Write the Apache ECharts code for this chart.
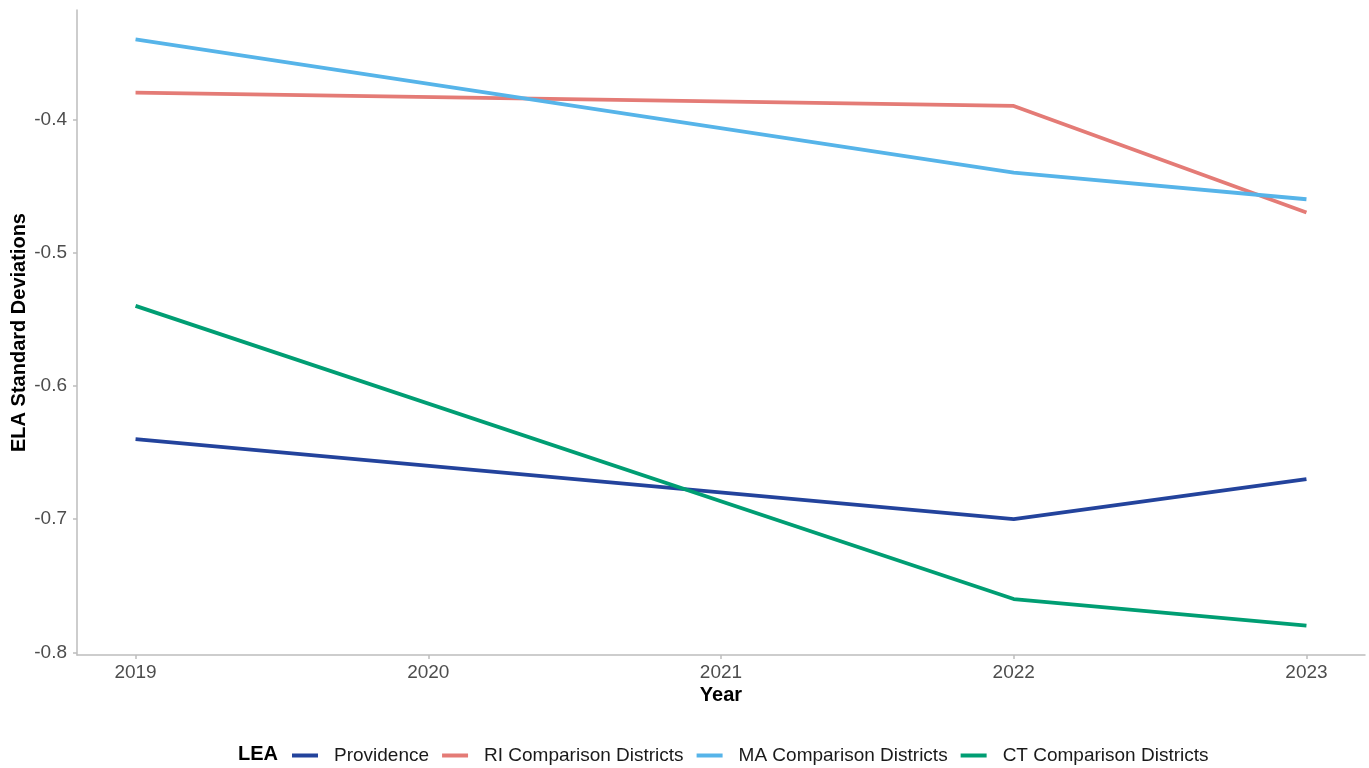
<!DOCTYPE html>
<html>
<head>
<meta charset="utf-8">
<script src="https://cdn.jsdelivr.net/npm/echarts@6/dist/echarts.min.js"></script>
<style>
html,body{margin:0;padding:0;background:#fff;}
#chart{width:1369px;height:768px;}
</style>
</head>
<body>
<div id="chart"></div>
<script>
const years = [2019, 2022, 2023];
const yearTicks = [2019, 2020, 2021, 2022, 2023];
const yTicks = [-0.8, -0.7, -0.6, -0.5, -0.4];
const providence = [-0.64, -0.70, -0.67];
const riComparison = [-0.38, -0.39, -0.47];
const maComparison = [-0.34, -0.44, -0.46];
const ctComparison = [-0.54, -0.76, -0.78];
const seriesNames = ['Providence', 'RI Comparison Districts', 'MA Comparison Districts', 'CT Comparison Districts'];
const seriesColors = ['#23439c', '#e47b76', '#56b4e9', '#009e73'];
const seriesValues = [providence, riComparison, maComparison, ctComparison];

const chart = echarts.init(document.getElementById('chart'), null, {renderer: 'canvas'});
const axisGray = '#bdbdbd';
const labelGray = '#4d4d4d';
const font = 'Arial, "Liberation Sans", sans-serif';

chart.setOption({
  backgroundColor: '#fff',
  animation: false,
  textStyle: {fontFamily: font},
  grid: {left: 77, right: 4, top: 10, bottom: 113, containLabel: false, outerBoundsMode: 'none'},
  title: {
    text: 'LEA', left: 233, top: 739,
    textStyle: {fontSize: 20, fontWeight: 'bold', color: '#000', fontFamily: font}
  },
  legend: {
    left: 287, top: 741,
    icon: 'rect', itemWidth: 26, itemHeight: 4, itemGap: 13,
    textStyle: {fontSize: 19, color: '#1a1a1a', fontFamily: font, padding: [0, 0, 0, 11]},
    data: seriesNames
  },
  xAxis: {
    type: 'value', min: 2018.8, max: 2023.2,
    name: 'Year', nameLocation: 'middle', nameGap: 30, nameMoveOverlap: false,
    nameTextStyle: {fontSize: 20, fontWeight: 'bold', color: '#000', fontFamily: font},
    axisLine: {show: true, lineStyle: {color: axisGray, width: 1.5}},
    axisTick: {show: true, length: 4, lineStyle: {color: axisGray, width: 1.5}, customValues: yearTicks},
    axisLabel: {color: labelGray, fontSize: 19, margin: 8, customValues: yearTicks, formatter: v => String(Math.round(v))},
    splitLine: {show: false}
  },
  yAxis: {
    type: 'value', min: -0.802, max: -0.318,
    name: 'ELA Standard Deviations', nameLocation: 'middle', nameGap: 48, nameRotate: 90, nameMoveOverlap: false,
    nameTextStyle: {fontSize: 20, fontWeight: 'bold', color: '#000', fontFamily: font},
    axisLine: {show: true, lineStyle: {color: axisGray, width: 1.5}},
    axisTick: {show: true, length: 4, lineStyle: {color: axisGray, width: 1.5}, customValues: yTicks},
    axisLabel: {color: labelGray, fontSize: 19, margin: 10, customValues: yTicks, formatter: v => v.toFixed(1)},
    splitLine: {show: false}
  },
  series: seriesValues.map((vals, i) => ({
    name: seriesNames[i],
    type: 'line',
    data: years.map((y, j) => [y, vals[j]]),
    showSymbol: false,
    symbol: 'none',
    color: seriesColors[i],
    lineStyle: {width: 3.8, color: seriesColors[i]},
    itemStyle: {color: seriesColors[i]},
    z: 2 + i
  }))
});
</script>
</body>
</html>
